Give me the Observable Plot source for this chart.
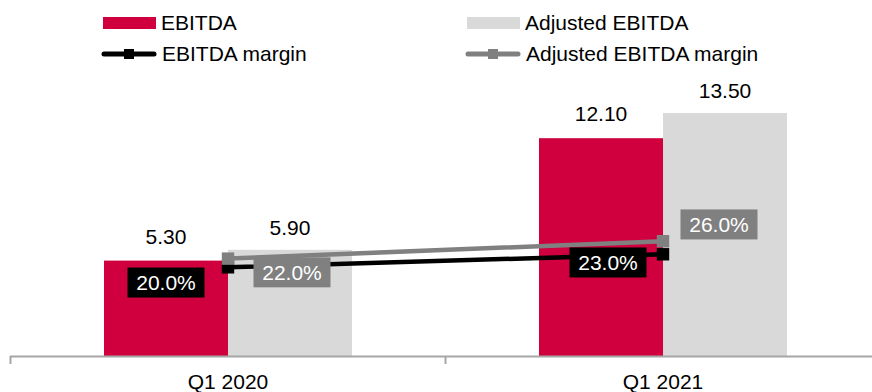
<!DOCTYPE html>
<html><head><meta charset="utf-8">
<script src="https://cdn.jsdelivr.net/npm/d3@7"></script>
<script src="https://cdn.jsdelivr.net/npm/@observablehq/plot@0.6"></script>
<style>
body{margin:0;background:#fff;font-family:"Liberation Sans",Arial,sans-serif;}
#legend{position:relative;height:64px;width:872px;font-size:21px;color:#000;}
.item{position:absolute;display:flex;align-items:center;height:26px;white-space:nowrap;}
.item svg{display:block;margin-right:5px;}
#chart svg{display:block;}
</style></head><body>
<div id="legend"></div>
<div id="chart"></div>
<script>
// ---- data ----
const categories = ["Q1 2020", "Q1 2021"];
const ebitda = [5.30, 12.10];
const adjEbitda = [5.90, 13.50];
const ebitdaMargin = [20.0, 23.0];
const adjEbitdaMargin = [22.0, 26.0];
const seriesNames = ["EBITDA", "Adjusted EBITDA", "EBITDA margin", "Adjusted EBITDA margin"];

// ---- colours ----
const RED = "#CF003D", LIGHT = "#D9D9D9", DARK = "#000000", GREY = "#808080", AXIS = "#A6A6A6";

// ---- legend ----
const legend = document.getElementById("legend");
const legendItems = [
  {name: seriesNames[0], kind: "bar", color: RED, left: 103, top: 10},
  {name: seriesNames[1], kind: "bar", color: LIGHT, left: 467, top: 10},
  {name: seriesNames[2], kind: "line", color: DARK, left: 101, top: 41},
  {name: seriesNames[3], kind: "line", color: GREY, left: 465, top: 41}
];
for (const it of legendItems) {
  const div = document.createElement("div");
  div.className = "item";
  div.style.left = it.left + "px";
  div.style.top = it.top + "px";
  const sw = it.kind === "bar"
    ? `<svg width="53" height="26"><rect x="0" y="7" width="53" height="12" fill="${it.color}"/></svg>`
    : `<svg width="56" height="26"><line x1="3" y1="13" x2="53" y2="13" stroke="${it.color}" stroke-width="5" stroke-linecap="round"/><rect x="23" y="8" width="10" height="10" fill="${it.color}"/></svg>`;
  div.innerHTML = sw + `<span>${it.name}</span>`;
  legend.appendChild(div);
}

// ---- chart ----
const yMax = 16;
const marginDomain = [-0.5, 65.7]; // secondary (percent) axis mapped onto [0, yMax]
const toY = v => (v - marginDomain[0]) / (marginDomain[1] - marginDomain[0]) * yMax;
const rows = categories.map((c, i) => ({cat: c, e: ebitda[i], a: adjEbitda[i], m: ebitdaMargin[i], am: adjEbitdaMargin[i]}));
const f2 = d3.format(".2f");
const fp = v => d3.format(".1f")(v) + "%";
const bandW = (880 - 10) / categories.length;

const chart = Plot.plot({
  width: 872, height: 328,
  marginTop: 4, marginBottom: 36, marginLeft: 10, marginRight: 0,
  x: {domain: categories, range: [10, 880], padding: 0},
  y: {domain: [0, yMax], axis: null},
  style: {fontFamily: "'Liberation Sans', Arial, sans-serif", fontSize: "21px", background: "#fff", color: "#000", overflow: "visible"},
  marks: [
    Plot.barY(rows, {x: "cat", y: "e", fill: RED, insetLeft: 94, insetRight: 217}),
    Plot.barY(rows, {x: "cat", y: "a", fill: LIGHT, insetLeft: 218, insetRight: 93}),
    Plot.ruleY([0], {stroke: AXIS, strokeWidth: 2}),
    Plot.ruleX(categories, {x: d => d, y1: 0, y2: -8 / 18, dx: -bandW / 2, stroke: AXIS, strokeWidth: 2}),
    Plot.axisX({tickSize: 0, tickPadding: 18, label: null, fontSize: 21, fill: "#000"}),
    Plot.text(rows, {x: "cat", y: "e", text: d => f2(d.e), dx: -62, dy: -24, fill: "#000", fontSize: 21}),
    Plot.text(rows, {x: "cat", y: "a", text: d => f2(d.a), dx: 62, dy: -22, fill: "#000", fontSize: 21}),
    Plot.line(rows, {x: "cat", y: d => toY(d.m), stroke: DARK, strokeWidth: 4.5}),
    Plot.dot(rows, {x: "cat", y: d => toY(d.m), symbol: "square", r: 7, fill: DARK}),
    Plot.line(rows, {x: "cat", y: d => toY(d.am), stroke: GREY, strokeWidth: 4.5}),
    Plot.dot(rows, {x: "cat", y: d => toY(d.am), symbol: "square", r: 7, fill: GREY}),
    Plot.text([rows[0]], {x: "cat", y: d => toY(d.m), text: d => fp(d.m), dx: -62, dy: 16, fill: "#fff", fontSize: 21}),
    Plot.text([rows[1]], {x: "cat", y: d => toY(d.m), text: d => fp(d.m), dx: -55, dy: 9, fill: "#fff", fontSize: 21}),
    Plot.text([rows[0]], {x: "cat", y: d => toY(d.am), text: d => fp(d.am), dx: 64, dy: 14.5, fill: "#fff", fontSize: 21}),
    Plot.text([rows[1]], {x: "cat", y: d => toY(d.am), text: d => fp(d.am), dx: 56, dy: -16, fill: "#fff", fontSize: 21})
  ]
});
document.getElementById("chart").appendChild(chart);

// boxes behind the margin labels
const darkLabels = ebitdaMargin.map(fp), greyLabels = adjEbitdaMargin.map(fp);
chart.querySelectorAll("text").forEach(t => {
  const s = t.textContent.trim();
  let fill = null;
  if (darkLabels.includes(s)) fill = DARK;
  else if (greyLabels.includes(s)) fill = GREY;
  if (!fill) return;
  const b = t.getBBox();
  const cx = b.x + b.width / 2, cy = b.y + b.height / 2;
  const r = document.createElementNS("http://www.w3.org/2000/svg", "rect");
  r.setAttribute("x", cx - 38.5);
  r.setAttribute("y", cy - 15);
  r.setAttribute("width", 77);
  r.setAttribute("height", 30);
  r.setAttribute("fill", fill);
  if (t.getAttribute("transform")) r.setAttribute("transform", t.getAttribute("transform"));
  t.parentNode.insertBefore(r, t);
});
</script>
</body></html>
